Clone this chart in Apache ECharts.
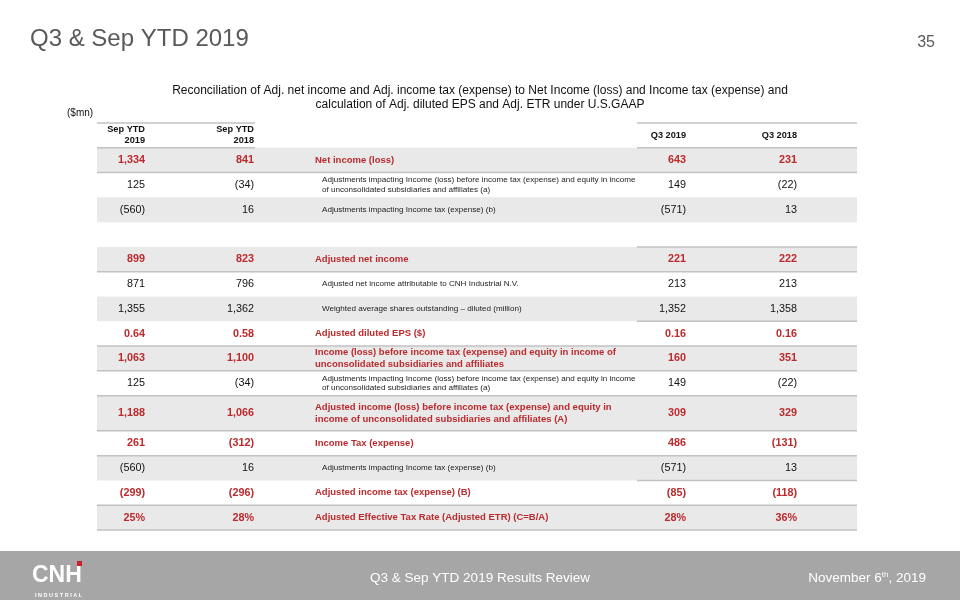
<!DOCTYPE html>
<html><head><meta charset="utf-8">
<script src="https://cdn.jsdelivr.net/npm/echarts@6/dist/echarts.min.js"></script>
<style>html,body{margin:0;padding:0;background:#fff}#c{width:960px;height:600px}</style>
</head><body><div id="c"></div>
<script>
// ---------- data ----------
const columnHeaders = ['Sep YTD\n2019', 'Sep YTD\n2018', 'Q3 2019', 'Q3 2018'];
const rowLabels = [
  'Net income (loss)',
  'Adjustments impacting Income (loss) before income tax (expense) and equity in income\nof unconsolidated subsidiaries and affiliates (a)',
  'Adjustments impacting Income tax (expense) (b)',
  '',
  'Adjusted net income',
  'Adjusted net income attributable to CNH Industrial N.V.',
  'Weighted average shares outstanding \u2013 diluted (million)',
  'Adjusted diluted EPS ($)',
  'Income (loss) before income tax (expense) and equity in income of\nunconsolidated subsidiaries and affiliates',
  'Adjustments impacting Income (loss) before income tax (expense) and equity in income\nof unconsolidated subsidiaries and affiliates (a)',
  'Adjusted income (loss) before income tax (expense) and equity in\nincome of unconsolidated subsidiaries and affiliates (A)',
  'Income Tax (expense)',
  'Adjustments impacting Income tax (expense) (b)',
  'Adjusted income tax (expense) (B)',
  'Adjusted Effective Tax Rate (Adjusted ETR) (C=B/A)'
];
const sepYtd2019 = [1334, 125, -560, null, 899, 871, 1355, 0.64, 1063, 125, 1188, 261, -560, -299, 0.25];
const sepYtd2018 = [841, -34, 16, null, 823, 796, 1362, 0.58, 1100, -34, 1066, -312, 16, -296, 0.28];
const q32019 = [643, 149, -571, null, 221, 213, 1352, 0.16, 160, 149, 309, 486, -571, -85, 0.28];
const q32018 = [231, -22, 13, null, 222, 213, 1358, 0.16, 351, -22, 329, -131, 13, -118, 0.36];
const rowFormat = ['int','int','int','','int','int','int','eps','int','int','int','int','int','int','pct'];
const keyRows = [0, 4, 7, 8, 10, 11, 13, 14];

// ---------- layout / style ----------
const RED = '#bb2a2d';
const FONT = '"Liberation Sans", Arial, sans-serif';
const ROW_UNITS = rowLabels.map((_, i) => (i === 10 ? 1.42 : 1));
const HEADER_UNITS = 1;
const TOTAL_UNITS = HEADER_UNITS + ROW_UNITS.reduce((a, b) => a + b, 0);
const rowTop = i => (i < 0 ? 0 : HEADER_UNITS + ROW_UNITS.slice(0, i).reduce((a, b) => a + b, 0));
const rowBottom = i => (i < 0 ? HEADER_UNITS : rowTop(i) + ROW_UNITS[i]);
const X = { c1: 48, c2: 157, label: 218, labelSub: 225, c3: 589, c4: 700, end: 760, leftEnd: 158, rightStart: 540 };
const grayRows = [0, 2, 4, 6, 8, 10, 12, 14];
const fullLines = [0, 4, 7, 8, 9, 10, 11, 13, 14];
const rightLines = [3, 6, 12];
const LINE = { stroke: '#c2c2c2', lineWidth: 1.5 };

function fmt(v, kind) {
  if (v === null || v === undefined) return '';
  if (kind === 'pct') return Math.round(v * 100) + '%';
  if (kind === 'eps') return v.toFixed(2);
  const s = String(Math.abs(v)).replace(/\B(?=(\d{3})+(?!\d))/g, ',');
  return v < 0 ? '(' + s + ')' : s;
}

const rowIdx = [-1].concat(rowLabels.map((_, i) => i));

function gridRender(params, api) {
  const i = api.value(0);
  const children = [];
  const p0 = api.coord([0, rowTop(i)]);
  const p1 = api.coord([X.end, rowBottom(i)]);
  if (i >= 0 && grayRows.includes(i)) {
    children.push({ type: 'rect', shape: { x: p0[0], y: p0[1], width: p1[0] - p0[0], height: p1[1] - p0[1] }, style: { fill: '#e9e9e9' } });
  }
  const hline = (xa, xb, yv) => {
    const a = api.coord([xa, yv]), b = api.coord([xb, yv]);
    children.push({ type: 'line', shape: { x1: a[0], y1: a[1], x2: b[0], y2: b[1] }, style: LINE, z2: 5 });
  };
  if (i < 0) {
    [0, HEADER_UNITS].forEach(yv => { hline(0, X.leftEnd, yv); hline(X.rightStart, X.end, yv); });
  } else if (fullLines.includes(i)) {
    hline(0, X.end, rowBottom(i));
  } else if (rightLines.includes(i)) {
    hline(X.rightStart, X.end, rowBottom(i));
  }
  return { type: 'group', children };
}

function textRender(params, api) {
  const i = api.value(0);
  const yMid = (rowTop(i) + rowBottom(i)) / 2;
  const children = [];
  const put = (xv, text, st) => {
    const p = api.coord([xv, yMid]);
    children.push({ type: 'text', style: Object.assign({ text, x: p[0], y: p[1], verticalAlign: 'middle', textVerticalAlign: 'middle', fontFamily: FONT }, st), z2: 10 });
  };
  if (i < 0) {
    const hs = { fill: '#111', fontSize: 9.2, fontWeight: 'bold', align: 'right', textAlign: 'right', lineHeight: 11 };
    put(X.c1, columnHeaders[0], hs);
    put(X.c2, columnHeaders[1], hs);
    put(X.c3, columnHeaders[2], hs);
    put(X.c4, columnHeaders[3], hs);
  } else {
    const key = keyRows.includes(i);
    const vs = key ? { fill: RED, fontSize: 10.8, fontWeight: 'bold', align: 'right', textAlign: 'right' }
                   : { fill: '#111', fontSize: 10.8, align: 'right', textAlign: 'right' };
    const k = rowFormat[i];
    put(X.c1, fmt(sepYtd2019[i], k), vs);
    put(X.c2, fmt(sepYtd2018[i], k), vs);
    put(X.c3, fmt(q32019[i], k), vs);
    put(X.c4, fmt(q32018[i], k), vs);
    if (rowLabels[i]) {
      if (key) put(X.label, rowLabels[i], { fill: RED, fontSize: 9.5, fontWeight: 'bold', align: 'left', textAlign: 'left', lineHeight: 12 });
      else put(X.labelSub, rowLabels[i], { fill: '#222', fontSize: 8.1, align: 'left', textAlign: 'left', lineHeight: 9.5 });
    }
  }
  return { type: 'group', children };
}

const chart = echarts.init(document.getElementById('c'), null, { renderer: 'canvas' });
chart.setOption({
  animation: false,
  backgroundColor: '#ffffff',
  grid: { left: 97, right: 103, top: 123, bottom: 70 },
  xAxis: { type: 'value', min: 0, max: X.end, show: false },
  yAxis: { type: 'value', min: 0, max: TOTAL_UNITS, inverse: true, show: false },
  graphic: [
    { type: 'text', left: 30, top: 27, style: { text: 'Q3 & Sep YTD 2019', fill: '#595959', font: '24px ' + FONT } },
    { type: 'text', right: 25, top: 35, style: { text: '35', fill: '#595959', font: '16px ' + FONT } },
    { type: 'text', x: 480, y: 98, style: { text: 'Reconciliation of Adj. net income and Adj. income tax (expense) to Net Income (loss) and Income tax (expense) and\ncalculation of Adj. diluted EPS and Adj. ETR under U.S.GAAP', fill: '#111', fontSize: 12, fontFamily: FONT, lineHeight: 14, align: 'center', textAlign: 'center', verticalAlign: 'middle', textVerticalAlign: 'middle' } },
    { type: 'text', x: 67, y: 113, style: { text: '($mn)', fill: '#111', fontSize: 10, fontFamily: FONT, verticalAlign: 'middle', textVerticalAlign: 'middle' } },
    { type: 'rect', shape: { x: 0, y: 551, width: 960, height: 49 }, style: { fill: '#a6a6a6' }, z: -1 },
    { type: 'text', x: 32, y: 576, style: { text: 'CNH', fill: '#ffffff', fontSize: 23, fontWeight: 'bold', fontFamily: FONT, verticalAlign: 'middle', textVerticalAlign: 'middle' } },
    { type: 'rect', shape: { x: 77, y: 561, width: 5, height: 5 }, style: { fill: '#c8202f' } },
    { type: 'text', x: 35, y: 595, style: { text: 'I N D U S T R I A L', fill: '#ffffff', fontSize: 5.5, fontWeight: 'bold', fontFamily: FONT, verticalAlign: 'middle', textVerticalAlign: 'middle' } },
    { type: 'text', x: 480, y: 578, style: { text: 'Q3 & Sep YTD 2019 Results Review', fill: '#ffffff', fontSize: 13.5, fontFamily: FONT, align: 'center', textAlign: 'center', verticalAlign: 'middle', textVerticalAlign: 'middle' } },
    { type: 'text', x: 926, y: 578, style: { text: 'November 6{sup|th}, 2019', fill: '#ffffff', fontSize: 13.5, fontFamily: FONT, align: 'right', textAlign: 'right', verticalAlign: 'middle', textVerticalAlign: 'middle', rich: { sup: { fontSize: 8, fill: '#ffffff', fontFamily: FONT, padding: [0, 0, 7, 0] } } } }
  ],
  series: [
    { type: 'custom', name: 'grid', data: rowIdx.map(i => [i]), renderItem: gridRender, clip: false, silent: true, z: 1, encode: { y: 0 } },
    { type: 'custom', name: 'cells', data: rowIdx.map(i => [i]), renderItem: textRender, clip: false, silent: true, z: 2, encode: { y: 0 } }
  ]
});
</script>
</body></html>
